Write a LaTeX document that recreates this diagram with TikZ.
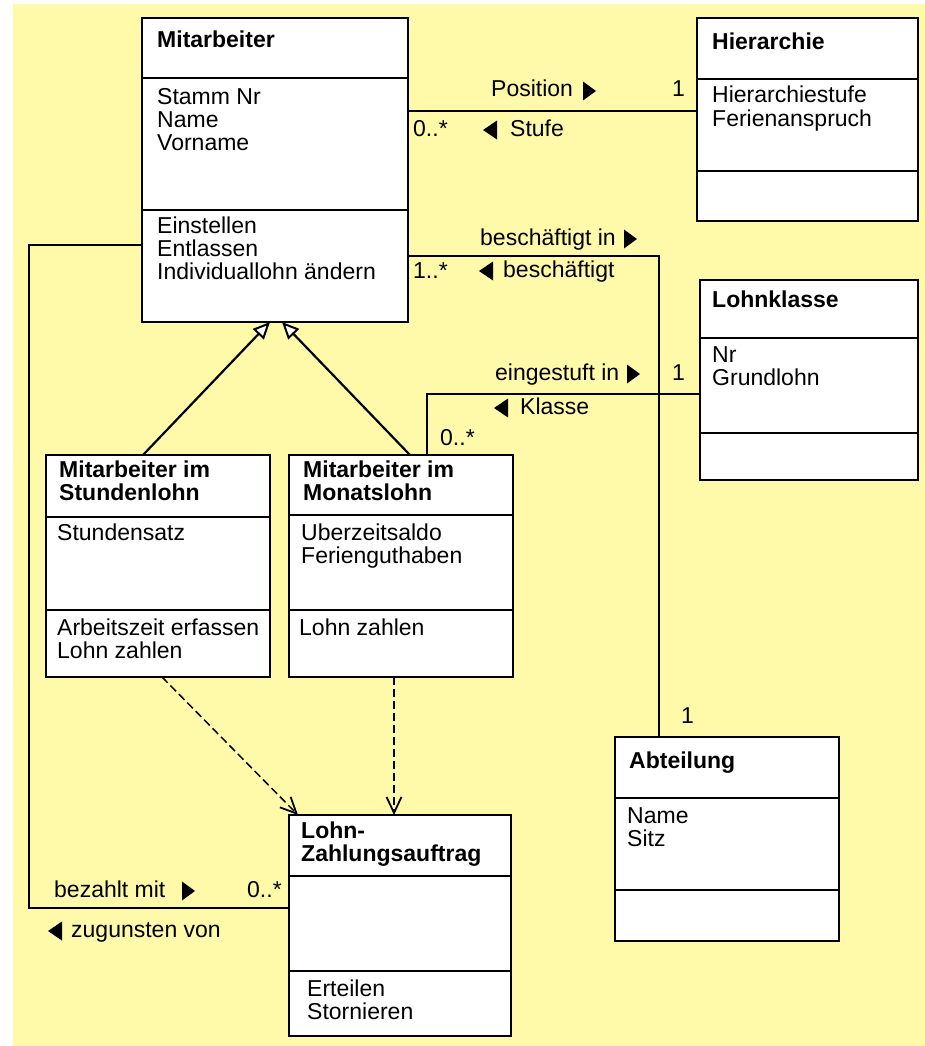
\documentclass[tikz,border=0pt]{standalone}
\usepackage{fontspec}
\setmainfont{Liberation Sans}
\usetikzlibrary{arrows.meta}
\definecolor{bgyellow}{RGB}{255,250,170}
\newcommand\umlclass[7]{%
  \node[classbox, minimum width=#4pt, minimum height=#5pt] (#1) at (#2,#3) {};
  \draw[boxline] ([yshift=-#6pt]#1.north west) -- ([yshift=-#6pt]#1.north east);
  \draw[boxline] ([yshift=-#7pt]#1.north west) -- ([yshift=-#7pt]#1.north east);
}
\newcommand\rtri[2]{\fill (#1,#2) ++(0,-9.5) -- ++(0,19) -- ++(13,-9.5) -- cycle;}
\newcommand\ltri[2]{\fill (#1,#2) ++(14,-9.5) -- ++(0,19) -- ++(-14,-9.5) -- cycle;}
\begin{document}
\begin{tikzpicture}[x=1pt,y=-1pt,
  font=\fontsize{23}{23.4}\selectfont,
  classbox/.style={draw, fill=white, line width=2.2pt, inner sep=0pt, outer sep=0pt, anchor=north west},
  boxline/.style={line width=2.2pt},
  txt/.style={anchor=base west, inner sep=0pt, align=left},
  ttl/.style={txt, font=\fontsize{23}{23.4}\selectfont\bfseries},
  conn/.style={line width=2pt},
  gen/.style={line width=2.2pt, -{Triangle[open, length=17pt, width=15pt, fill=white, line width=2pt]}},
  dep/.style={line width=1.5pt, dash pattern=on 8pt off 4pt, -{Straight Barb[length=16pt, width=15pt, line width=1.8pt]}}
]
\useasboundingbox (0,0) rectangle (925,1046);
\fill[white] (0,0) rectangle (925,1046);
\fill[bgyellow] (13,4) rectangle (925,1046);

\umlclass{mit}{142}{18}{266}{304}{60}{192}
\umlclass{hier}{697}{18}{221}{203}{61}{153}
\umlclass{lohnk}{700}{280}{218}{200}{58}{153}
\umlclass{stund}{46}{455}{224}{222}{62}{155}
\umlclass{monat}{289}{455}{224}{222}{60}{155}
\umlclass{lza}{289}{815}{222}{221}{61}{156}
\umlclass{abt}{615}{737}{224}{204}{61}{153}

% connectors
\draw[conn] (mit.east |- 0,111) -- (hier.west |- 0,111);
\draw[conn] (mit.east |- 0,256) -| (abt.north -| 659,0);
\draw[conn] (lohnk.west |- 0,394) -| (monat.north -| 427,0);
\draw[conn] (mit.west |- 0,245) -- (29,245) -- (29,908) -- (lza.west |- 0,908);
\draw[gen] (stund.north -| 143,0) -- (mit.south -| 270,0);
\draw[gen] (monat.north -| 410,0) -- (mit.south -| 282,0);
\draw[dep] (stund.south -| 162,0) -- (lza.north -| 298,0);
\draw[dep] (monat.south -| 394,0) -- (lza.north -| 394,0);

% class texts (multi-line nodes: base = last line)
\node[ttl] (mitT) at (157,48) {Mitarbeiter};
\node[txt] (mitA) at (157,150.8) {Stamm Nr\\Name\\Vorname};
\node[txt] (mitO) at (157,279.8) {Einstellen\\Entlassen\\Individuallohn ändern};
\node[ttl] (hierT) at (712,50) {Hierarchie};
\node[txt] (hierA) at (712,126.4) {Hierarchiestufe\\Ferienanspruch};
\node[ttl] (lohnkT) at (712,307) {Lohnklasse};
\node[txt] (lohnkA) at (712,385.4) {Nr\\Grundlohn};
\node[ttl] (stundT) at (59,500.4) {Mitarbeiter im\\Stundenlohn};
\node[txt] (stundA) at (57,540) {Stundensatz};
\node[txt] (stundO) at (57,658.4) {Arbeitszeit erfassen\\Lohn zahlen};
\node[ttl] (monatT) at (303,500.4) {Mitarbeiter im\\Monatslohn};
\node[txt] (monatA) at (301,563.4) {Uberzeitsaldo\\Ferienguthaben};
\node[txt] (monatO) at (299,635) {Lohn zahlen};
\node[ttl] (lzaT) at (301,861.4) {Lohn-\\Zahlungsauftrag};
\node[txt] (lzaO) at (307,1019.4) {Erteilen\\Stornieren};
\node[ttl] (abtT) at (629,768) {Abteilung};
\node[txt] (abtA) at (627,846.4) {Name\\Sitz};

% association labels
\node[txt] (lpos) at (491,97) {Position};
\rtri{583}{91}
\node[txt] (m1) at (672,97) {1};
\node[txt] (m2) at (413,136) {0..*};
\node[txt] (lstufe) at (510,136) {Stufe};
\ltri{483}{130}

\node[txt] (lbi) at (480,245) {beschäftigt in};
\rtri{624}{239}
\node[txt] (m3) at (413,278) {1..*};
\node[txt] (lb) at (503,277) {beschäftigt};
\ltri{479}{271}
\node[txt] (m4) at (681,723) {1};

\node[txt] (lein) at (495,380) {eingestuft in};
\rtri{627}{374}
\node[txt] (m5) at (672,380) {1};
\node[txt] (lkl) at (520,414) {Klasse};
\ltri{494}{408}
\node[txt] (m6) at (440,445) {0..*};

\node[txt] (lbez) at (54,897) {bezahlt mit};
\rtri{182}{891}
\node[txt] (m7) at (247,897) {0..*};
\node[txt] (lzug) at (71,937) {zugunsten von};
\ltri{48}{931}
\end{tikzpicture}
\end{document}
